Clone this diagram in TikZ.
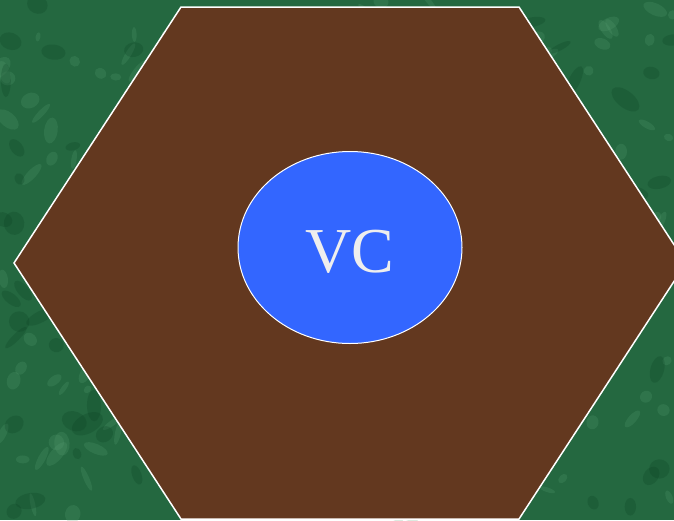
\documentclass[tikz,border=0pt]{standalone}
\usepackage{fontspec}
\setmainfont{Liberation Serif}
\definecolor{bggreen}{RGB}{36,104,64}
\definecolor{bglight}{RGB}{90,160,115}
\definecolor{bgdark}{RGB}{12,66,36}
\definecolor{hexbrown}{RGB}{99,56,31}
\definecolor{vcblue}{RGB}{51,102,255}
\definecolor{vctext}{RGB}{238,238,238}
\tikzset{
  hexface/.style={fill=hexbrown, draw=white, line width=1.5pt, line join=miter},
  vcnode/.style={ellipse, fill=vcblue, draw=white, line width=1pt, minimum width=224pt, minimum height=192pt, inner sep=0pt, text=vctext, font=\fontsize{64}{64}\selectfont},
}
\usetikzlibrary{shapes.geometric}
\begin{document}
\begin{tikzpicture}[x=1pt,y=-1pt]
\useasboundingbox (0,0) rectangle (674,520);
\fill[bggreen] (0,0) rectangle (674,520);
\begin{scope}
\clip (0,0) rectangle (674,520);
\pgfmathsetseed{7}
\foreach \i in {1,...,220}{
  \pgfmathsetmacro{\px}{rnd*674}
  \pgfmathsetmacro{\py}{rnd*520}
  \pgfmathsetmacro{\rx}{3+rnd*12}
  \pgfmathsetmacro{\ry}{2+rnd*6}
  \pgfmathsetmacro{\ang}{rnd*180}
  \fill[bglight, opacity=0.22, rotate around={\ang:(\px,\py)}] (\px,\py) ellipse [x radius=\rx, y radius=\ry];
}
\foreach \i in {1,...,160}{
  \pgfmathsetmacro{\px}{rnd*674}
  \pgfmathsetmacro{\py}{rnd*520}
  \pgfmathsetmacro{\rx}{4+rnd*14}
  \pgfmathsetmacro{\ry}{3+rnd*8}
  \pgfmathsetmacro{\ang}{rnd*180}
  \fill[bgdark, opacity=0.25, rotate around={\ang:(\px,\py)}] (\px,\py) ellipse [x radius=\rx, y radius=\ry];
}
\end{scope}
\coordinate (h1) at (181,7);
\coordinate (h2) at (519,7);
\coordinate (h3) at (686,263);
\coordinate (h4) at (519,519);
\coordinate (h5) at (181,519);
\coordinate (h6) at (14,263);
\draw[hexface] (h1) -- (h2) -- (h3) -- (h4) -- (h5) -- (h6) -- cycle;
\node[vcnode] (vc) at (350,247.5) {};
\node[text=vctext, font=\fontsize{64}{64}\selectfont, inner sep=0pt, anchor=base] (vclabel) at (350,272) {VC};
\end{tikzpicture}
\end{document}
